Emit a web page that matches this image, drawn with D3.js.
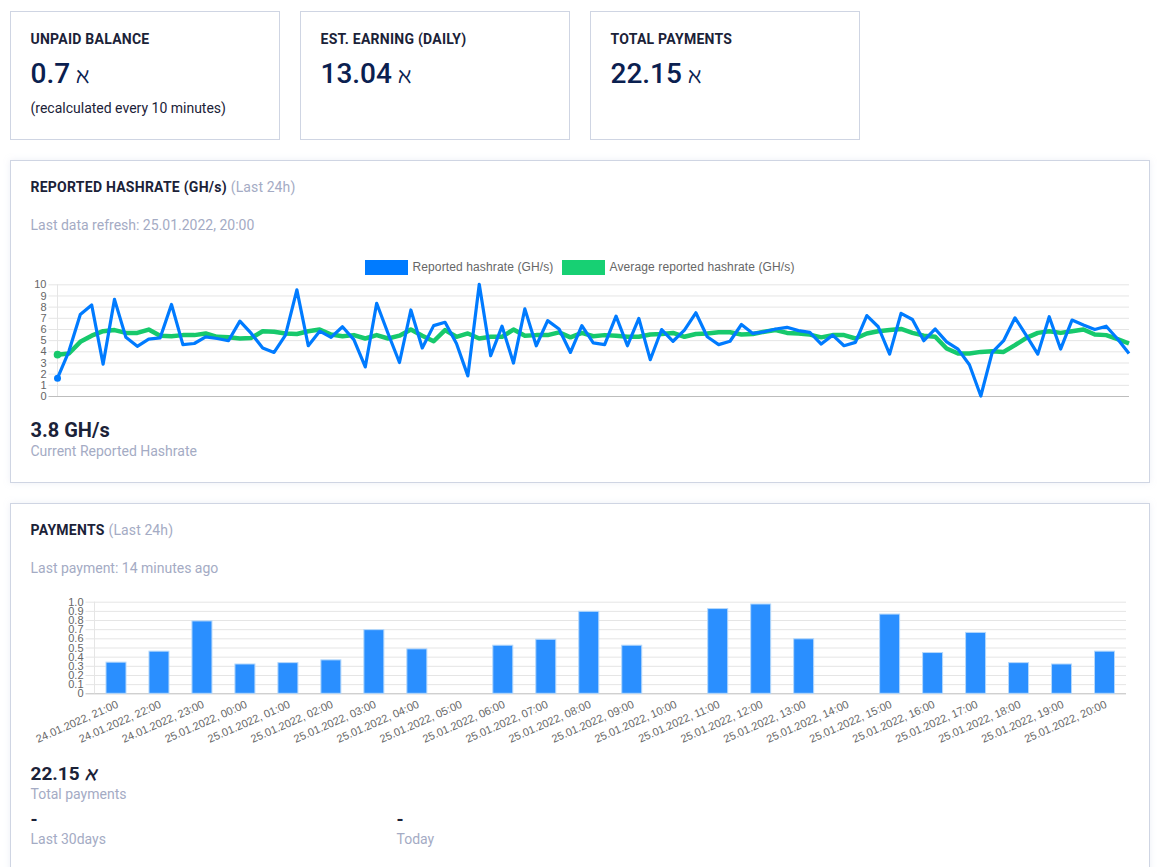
<!DOCTYPE html>
<html lang="en">

<head>
  <meta charset="UTF-8">
  <title>Miner dashboard</title>
  <script src="https://d3js.org/d3.v7.min.js"></script>
  <style>
    html, body { margin: 0; padding: 0; background: #fff; overflow: hidden; }
    svg { display: block; font-family: Roboto, sans-serif; }
    .tick text, .chart-label { font-family: "Liberation Sans", Arial, sans-serif; fill: #666; }
  </style>
</head>

<body>
  <script type="text/javascript">

    const w = 1158;
    const h = 867;
    const coin = "\u2135";

    // hashrate chart data (one point every 15 minutes)
    const hashrate = [1.6, 4.0, 7.3, 8.15, 2.85, 8.65, 5.25, 4.45, 5.1, 5.2, 8.2, 4.6, 4.7, 5.3, 5.15, 4.95,
      6.7, 5.6, 4.3, 3.9, 5.45, 9.5, 4.5, 5.8, 5.25, 6.2, 5.05, 2.6, 8.3, 5.6, 3.0, 7.7, 4.3, 6.3, 6.6, 4.7,
      1.8, 10, 3.6, 6.25, 2.95, 7.8, 4.5, 6.75, 6.0, 3.9, 6.3, 4.75, 4.6, 7.15, 4.5, 6.95, 3.25, 5.95, 4.9,
      5.9, 7.45, 5.3, 4.6, 4.9, 6.4, 5.6, 5.75, 6.0, 6.15, 5.85, 5.7, 4.65, 5.45, 4.5, 4.8, 7.2, 6.2, 3.75,
      7.4, 6.85, 4.95, 6.0, 4.85, 4.2, 2.8, 0, 3.9, 4.95, 7.0, 5.4, 3.75, 7.1, 4.2, 6.8, 6.35, 5.95, 6.25,
      5.1, 3.8];
    const avgHashrate = [3.7, 3.8, 4.85, 5.4, 5.8, 5.9, 5.65, 5.65, 5.95, 5.4, 5.35, 5.45, 5.45, 5.6, 5.3,
      5.25, 5.15, 5.2, 5.8, 5.75, 5.6, 5.55, 5.8, 5.95, 5.5, 5.35, 5.45, 5.15, 5.45, 5.15, 5.4, 5.95, 5.4,
      4.9, 5.9, 5.3, 5.6, 5.15, 5.3, 5.3, 5.95, 5.4, 5.45, 5.45, 5.7, 5.25, 5.65, 5.35, 5.45, 5.4, 5.3, 5.3,
      5.5, 5.55, 5.65, 5.3, 5.55, 5.6, 5.7, 5.7, 5.5, 5.55, 5.75, 5.9, 5.65, 5.6, 5.5, 5.25, 5.45, 5.45,
      5.15, 5.6, 5.8, 5.9, 6.0, 5.65, 5.4, 5.3, 4.25, 3.8, 3.8, 3.95, 4.0, 3.95, 4.55, 5.2, 5.65, 5.8, 5.65,
      5.8, 5.95, 5.5, 5.45, 5.1, 4.7];
    const hashTicks = [0, 1, 2, 3, 4, 5, 6, 7, 8, 9, 10];

    // payments chart data
    const payHours = ["24.01.2022, 21:00", "24.01.2022, 22:00", "24.01.2022, 23:00", "25.01.2022, 00:00",
      "25.01.2022, 01:00", "25.01.2022, 02:00", "25.01.2022, 03:00", "25.01.2022, 04:00", "25.01.2022, 05:00",
      "25.01.2022, 06:00", "25.01.2022, 07:00", "25.01.2022, 08:00", "25.01.2022, 09:00", "25.01.2022, 10:00",
      "25.01.2022, 11:00", "25.01.2022, 12:00", "25.01.2022, 13:00", "25.01.2022, 14:00", "25.01.2022, 15:00",
      "25.01.2022, 16:00", "25.01.2022, 17:00", "25.01.2022, 18:00", "25.01.2022, 19:00", "25.01.2022, 20:00"];
    const payments = [0.34, 0.46, 0.79, 0.32, 0.335, 0.365, 0.695, 0.485, 0, 0.525, 0.59, 0.895, 0.525, 0,
      0.925, 0.975, 0.595, 0, 0.865, 0.445, 0.665, 0.335, 0.32, 0.46];
    const payTicks = [0, 0.1, 0.2, 0.3, 0.4, 0.5, 0.6, 0.7, 0.8, 0.9, 1.0];

    const statCards = [
      { x: 10, title: "UNPAID BALANCE", value: "0.7", note: "(recalculated every 10 minutes)" },
      { x: 300, title: "EST. EARNING (DAILY)", value: "13.04" },
      { x: 590, title: "TOTAL PAYMENTS", value: "22.15" }
    ];

    const svg = d3.select("body").append("svg")
      .attr("width", w)
      .attr("height", h);

    const defs = svg.append("defs");
    const shadow = defs.append("filter").attr("id", "panelShadow")
      .attr("x", "-2%").attr("y", "-5%").attr("width", "104%").attr("height", "110%");
    shadow.append("feDropShadow")
      .attr("dx", 0).attr("dy", 0).attr("stdDeviation", 3)
      .attr("flood-color", "#b4bdd6").attr("flood-opacity", 0.25);

    function label(x, y, str, size, weight, color) {
      return svg.append("text")
        .attr("x", x).attr("y", y)
        .attr("font-size", size)
        .attr("font-weight", weight)
        .attr("fill", color)
        .text(str);
    }

    // bold uppercase headings run a little wider in the reference
    function heading(x, y, str) {
      return label(x, y, str, 14, 700, "#1b2238").attr("letter-spacing", 0.25);
    }

    function box(x, y, width, height, useShadow) {
      const r = svg.append("rect")
        .attr("x", x + 0.5).attr("y", y + 0.5)
        .attr("width", width - 1).attr("height", height - 1)
        .attr("fill", "#fff")
        .attr("stroke", "#cfd5e3");
      if (useShadow) r.attr("filter", "url(#panelShadow)");
    }

    // top cards
    statCards.forEach(function (c) {
      box(c.x, 11, 270, 129, false);
      heading(c.x + 20.5, 44, c.title);
      const v = label(c.x + 20.5, 83, c.value, 28, 500, "#0a2050");
      v.append("tspan").attr("dx", 6).attr("font-size", 22).attr("font-weight", 500).text(coin);
      if (c.note) label(c.x + 20.5, 112.5, c.note, 14, 400, "#1b2238");
    });

    // hashrate panel
    box(10, 160, 1140, 323, true);
    const t1 = heading(30.5, 192, "REPORTED HASHRATE (GH/s)");
    t1.append("tspan").attr("dx", 4).attr("font-weight", 400).attr("letter-spacing", 0.1).attr("fill", "#a4abc4").text("(Last 24h)");
    label(30.5, 230, "Last data refresh: 25.01.2022, 20:00", 14, 400, "#a4abc4");

    // legend
    const legend = [
      { x: 365, color: "#007bff", text: "Reported hashrate (GH/s)" },
      { x: 562, color: "#17d073", text: "Average reported hashrate (GH/s)" }
    ];
    legend.forEach(function (d) {
      svg.append("rect").attr("x", d.x).attr("y", 260).attr("width", 43).attr("height", 15).attr("fill", d.color);
      label(d.x + 47.5, 271, d.text, 12, 400, "#666").attr("class", "chart-label").attr("letter-spacing", 0.12);
    });

    const x1 = d3.scaleLinear().domain([0, hashrate.length - 1]).range([57.5, 1129]);
    const y1 = d3.scaleLinear().domain([0, 10]).range([396, 284.3]);

    function drawGrid(g, y, ticks, left, right, fmt) {
      const axis = d3.axisLeft(y).tickValues(ticks).tickFormat(fmt)
        .tickSize(right - left + 9).tickPadding(2);
      const a = g.append("g").attr("transform", "translate(" + right + ",0)").call(axis);
      a.select(".domain").remove();
      a.selectAll(".tick line").attr("stroke", "#e5e5e5");
      a.selectAll(".tick text").attr("font-size", 11).attr("font-family", null);
      a.selectAll(".tick").filter(function (d) { return d === 0; }).select("line").attr("stroke", "#bdbdbd");
      g.append("line")
        .attr("x1", left).attr("x2", left)
        .attr("y1", y.range()[1]).attr("y2", y.range()[0])
        .attr("stroke", "#e5e5e5");
    }

    drawGrid(svg.append("g"), y1, hashTicks, 57.5, 1129, d3.format("d"));

    const line1 = d3.line()
      .x(function (d, i) { return x1(i); })
      .y(function (d) { return y1(d); });

    svg.append("path").datum(avgHashrate)
      .attr("d", line1).attr("fill", "none").attr("stroke", "#17c96c")
      .attr("stroke-width", 4.5).attr("stroke-linejoin", "round");
    svg.append("circle").attr("cx", x1(0)).attr("cy", y1(avgHashrate[0])).attr("r", 3.8).attr("fill", "#17c96c");

    svg.append("path").datum(hashrate)
      .attr("d", line1).attr("fill", "none").attr("stroke", "#007bff")
      .attr("stroke-width", 3.2).attr("stroke-linejoin", "round");
    svg.append("circle").attr("cx", x1(0)).attr("cy", y1(hashrate[0])).attr("r", 3.5).attr("fill", "#007bff");

    label(30.5, 437, "3.8 GH/s", 20, 700, "#1b2238");
    label(30.5, 456, "Current Reported Hashrate", 14, 400, "#a4abc4");

    // payments panel
    box(10, 503, 1140, 380, true);
    const t2 = heading(30.5, 535, "PAYMENTS");
    t2.append("tspan").attr("dx", 4).attr("font-weight", 400).attr("letter-spacing", 0.1).attr("fill", "#a4abc4").text("(Last 24h)");
    label(30.5, 573, "Last payment: 14 minutes ago", 14, 400, "#a4abc4");

    const x2 = d3.scaleBand().domain(payHours).range([94.5, 1126]);
    const y2 = d3.scaleLinear().domain([0, 1]).range([693.3, 601.7]);

    drawGrid(svg.append("g"), y2, payTicks, 94.5, 1126, function (d) { return d === 0 ? "0" : d3.format(".1f")(d); });

    const barW = 20;
    svg.selectAll("rect.bar")
      .data(payHours.map(function (d, i) { return { hour: d, value: payments[i] }; }).filter(function (d) { return d.value > 0; }))
      .enter()
      .append("rect")
      .attr("class", "bar")
      .attr("x", function (d) { return x2(d.hour) + x2.bandwidth() / 2 - barW / 2; })
      .attr("y", function (d) { return y2(d.value); })
      .attr("width", barW)
      .attr("height", function (d) { return y2(0) - y2(d.value); })
      .attr("fill", "#2a8fff")
      .attr("stroke", "#b5d8fb")
      .attr("stroke-width", 1);

    // slanted hour labels, right end sits under the bar
    svg.selectAll("text.hour")
      .data(payHours)
      .enter()
      .append("text")
      .attr("class", "hour chart-label")
      .attr("font-size", 11)
      .attr("text-anchor", "end")
      .attr("transform", function (d) {
        return "translate(" + (x2(d) + x2.bandwidth() / 2 + 3) + ",707) rotate(-24)";
      })
      .text(function (d) { return d; });

    const t3 = label(30.5, 780, "22.15", 19, 700, "#1b2238");
    t3.append("tspan").attr("dx", 5).attr("font-style", "italic").attr("font-size", 18).text(coin);
    label(30.5, 799, "Total payments", 14, 400, "#a4abc4");
    label(30.5, 826, "-", 18, 700, "#1b2238");
    label(30.5, 844, "Last 30days", 14, 400, "#a4abc4");
    label(396.5, 826, "-", 18, 700, "#1b2238");
    label(396.5, 844, "Today", 14, 400, "#a4abc4");

  </script>
</body>

</html>
